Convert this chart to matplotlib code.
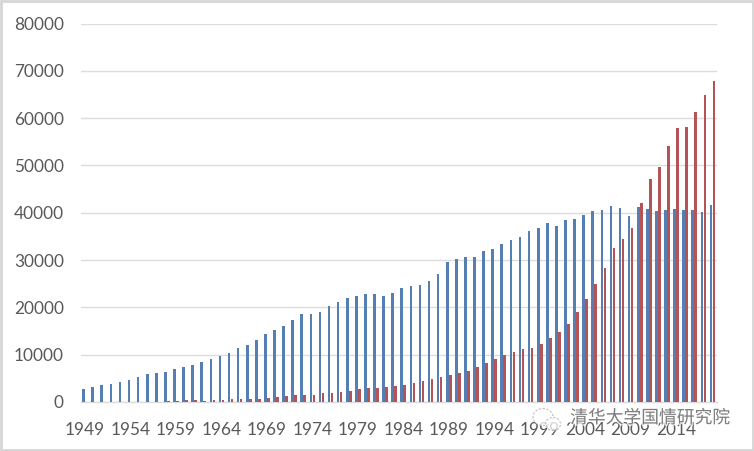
import matplotlib
matplotlib.use("Agg")
import matplotlib.pyplot as plt
import matplotlib.patheffects as pe
from matplotlib.patches import Ellipse, Rectangle
import numpy as np

plt.rcParams['font.family'] = ['Lato', 'Noto Sans CJK SC', 'DejaVu Sans']

years = list(range(1949, 2019))

# blue series
blue = [2750, 3170, 3600, 3810, 4230, 4660, 5290, 5930, 6140, 6350,
        6980, 7410, 7830, 8470, 9100, 9740, 10370, 11430, 12060, 13120,
        14390, 15240, 16080, 17350, 18620, 18620, 19050, 20320, 21160, 22010,
        22430, 22860, 22860, 22430, 23070, 24130, 24550, 24760, 25610, 27090,
        29630, 30260, 30690, 30690, 31960, 32380, 33440, 34290, 34920, 36190,
        36830, 37880, 37250, 38500, 38730, 39570, 40420, 40630, 41480, 41060,
        39360, 41270, 40850, 40420, 40630, 40850, 40630, 40630, 40210, 41690]

# red series
red = [0, 0, 0, 0, 0, 0, 0, 0, 0, 200,
       200, 400, 400, 300, 400, 400, 630, 630, 630, 630,
       850, 1060, 1270, 1480, 1480, 1480, 1900, 1900, 2120, 2330,
       2750, 2960, 2960, 3170, 3390, 3600, 4020, 4440, 4870, 5290,
       5710, 6140, 6560, 7410, 8250, 9100, 9950, 10580, 11220, 11430,
       12280, 13540, 14810, 16510, 19050, 21800, 24970, 28360, 32590, 34500,
       36830, 42120, 47200, 49730, 54180, 57990, 58200, 61380, 64970, 67930]

y_ticks = [0, 10000, 20000, 30000, 40000, 50000, 60000, 70000, 80000]

W, H = 754, 451
fig = plt.figure(figsize=(W / 100, H / 100), dpi=100, facecolor='white')

# grey frame round the picture
fig.add_artist(Rectangle((1.2 / W, 1.0 / H), (W - 2.4) / W, (H - 2.0) / H, transform=fig.transFigure,
                         fill=False, edgecolor='#d6d6d6', linewidth=2))

ax = fig.add_axes([80.5 / W, (H - 402) / H, 636.5 / W, 378.5 / H])

x = np.arange(len(years))
ax.bar(x - 0.165, blue, width=0.29, color='#557fb2', zorder=3)
ax.bar(x + 0.165, red, width=0.29, color='#b55456', zorder=3)

ax.set_xlim(-0.5, len(years) - 0.5)
ax.set_ylim(0, 80000)
ax.set_yticks(y_ticks)
ax.set_xticks(x[::5])
ax.set_xticklabels([str(y) for y in years[::5]])
ax.tick_params(axis='both', length=0, labelsize=12.4, labelcolor='#595959')
ax.tick_params(axis='y', pad=12)
ax.tick_params(axis='x', pad=14.5)
ax.grid(axis='y', color='#dcdcdc', linewidth=1, zorder=0)
ax.set_axisbelow(True)
for side in ['top', 'right', 'left']:
    ax.spines[side].set_visible(False)
ax.spines['bottom'].set_color('#dcdcdc')
ax.spines['bottom'].set_linewidth(1)

# watermark, over the year labels
halo = [pe.withStroke(linewidth=2, foreground='white', alpha=0.75)]
fig.text(650 / W, (H - 418) / H, '清华大学国情研究院', fontsize=12.8, color='#7f7f7f',
         ha='center', va='center', family=['Noto Sans CJK SC', 'DejaVu Sans'],
         path_effects=halo, zorder=10)
for cx, cy, ew, eh in [(543, 417, 20, 17), (553, 424, 15, 13)]:
    fig.add_artist(Ellipse((cx / W, (H - cy) / H), ew / W, eh / H, transform=fig.transFigure,
                           facecolor=(1, 1, 1, 0.75), edgecolor='#bdbdbd', linewidth=0.8,
                           linestyle=(0, (2, 1.5)), zorder=10))

fig.savefig('out.png', dpi=100)
